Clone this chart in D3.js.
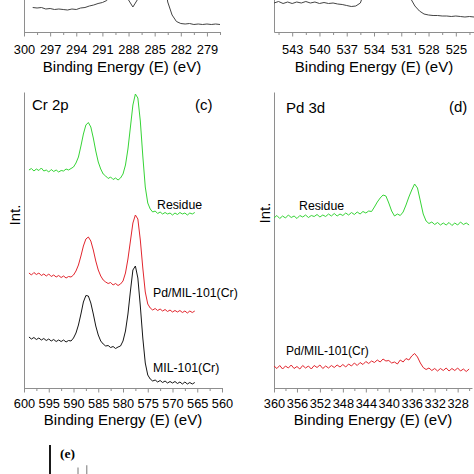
<!DOCTYPE html>
<html><head><meta charset="utf-8">
<script src="https://cdn.jsdelivr.net/npm/d3@7"></script>
<style>
body{margin:0;background:#fff}
svg{display:block;background:#fff}
text{font-family:"Liberation Sans",Arial,sans-serif;fill:#000}
</style>
</head><body>
<svg id="chart" width="474" height="474"></svg>
<script>
// ---------- DATA ----------
// (a) C 1s (partially visible)
const c1sEnergy = [299,298.5,298,297.5,297,296.5,296,295.5,295,294.5,294,293.5,293,292.5,292,291.5,291,290.5,290,289.5,289,288.5,288,287.5,287,286.5,286,285.5,285,284.5,284,283.5,283,282.5,282,281.5,281,280.5,280,279.5,279,278.5,278,277.5];
const c1sIntensity = [24.5,24,24.5,23,23.5,22.5,23,22.5,22,23,22.5,24,24.5,26,27,28.5,29.5,31.5,37,42,46,40,32,25,32,57,92,152,192,172,62,30,17,10.5,8.5,8,8.5,7.5,8,7.5,8,7.5,8,7.5];
const c1sTicks = [300,297,294,291,288,285,282,279];
const c1sMinor = [298.5,295.5,292.5,289.5,286.5,283.5,280.5,277.5];

// (b) O 1s (partially visible)
const o1sEnergy = [545,544.5,544,543.5,543,542.5,542,541.5,541,540.5,540,539.5,539,538.5,538,537.5,537,536.5,536,535.5,535,534.5,534,533.5,533,532.5,532,531.5,531,530.5,530,529.5,529,528.5,528,527.5,527,526.5,526,525.5,525,524.5,524,523.5,523];
const o1sIntensity = [29,30.5,28.5,30,28.5,30,29,30.5,29,30,28.5,29.5,28.5,29,28,27.5,26.5,25.5,26,29,42,72,110,150,180,200,205,180,92,52,34,26,21,18,17,16.5,16.5,16,16,15.5,16,15.5,15,15.5,15];
const o1sTicks = [543,540,537,534,531,528,525];
const o1sMinor = [544.5,541.5,538.5,535.5,532.5,529.5,526.5,523.5];

// (c) Cr 2p
const crEnergy = [599,598.5,598,597.5,597,596.5,596,595.5,595,594.5,594,593.5,593,592.5,592,591.5,591,590.5,590,589.5,589,588.5,588,587.5,587,586.5,586,585.5,585,584.5,584,583.5,583,582.5,582,581.5,581,580.5,580,579.5,579,578.5,578,577.5,577,576.5,576,575.5,575,574.5,574,573.5,573,572.5,572,571.5,571,570.5,570,569.5,569,568.5,568,567.5,567,566.5,566,565.5];
const crResidue = [218,219.5,217,219,217.5,220,217,218,216,218.5,216.5,218,216,217.5,217,219,218,219.5,
  221,225,231,242,254,263,265.5,261,250,237,226,219,214,212,209.5,211,208.5,210,208,210,
  214,223,239,261,283,294,290,267,232,201,185,179,176,177,174.5,176,174,175.5,174,175,
  173,175,173.5,175.5,174,175,173,175,174,175.5];
const crPdMIL = [115,113,115.5,113.5,115,112.5,114,112,114,111.5,113,111,112.5,110.5,112,110,111.5,111,
  113,117,123,132,142,149,151,147,138,127,118,112,108,106,104.5,105.5,103,104.5,102.5,104,
  107,115,129,147,165,173,169,148,120,96,84,80,78,79.5,77.5,79,77,78.5,76.5,78,
  76,77.5,76,77.5,75.5,77,75,77,75.5,77];
const crMIL = [51,49,50.5,48.5,50,48,49.5,47.5,49,47,48.5,46.5,48,46.5,48,46,47.5,47,
  50,55,63,74,86,92.5,92,85,74,62,53,47,44,42,42.5,40.5,41.5,39.5,41,42,
  47,57,74,97,118,122,110,82,50,25,13,9,7,8,6,7.5,5.5,7,5,6.5,
  5,6.5,4.5,6,4,6,4,5.5,4,5.5];
const crTicks = [600,595,590,585,580,575,570,565,560];
const crMinor = [597.5,592.5,587.5,582.5,577.5,572.5,567.5,562.5];

// (d) Pd 3d
const pdEnergy = [360,359.5,359,358.5,358,357.5,357,356.5,356,355.5,355,354.5,354,353.5,353,352.5,352,351.5,351,350.5,350,349.5,349,348.5,348,347.5,347,346.5,346,345.5,345,344.5,344,343.5,343,342.5,342,341.5,341,340.5,340,339.5,339,338.5,338,337.5,337,336.5,336,335.5,335,334.5,334,333.5,333,332.5,332,331.5,331,330.5,330,329.5,329,328.5,328,327.5,327,326.5,326];
const pdResidue = [170,172.5,169.5,172,170,173,170.5,172,169.5,172.5,
  171,173,170.5,172.5,171.5,173.5,171,173,171.5,174,
  172,174.5,172,174,172.5,175,173,175.5,173.5,176,
  174,176.5,175,177,176.5,181,186,190,193,192,
  185,177,172,174,172.5,176,183,191,198,204,
  200,187,174,167,164.5,166,163.5,165.5,163,165,
  163,165.5,162.5,165,163,166,163.5,165,163];
const pdPdMIL = [22,19.5,22.5,19,22,20,23,19.5,21.5,19,
  22.5,20,22,19,22.5,20.5,23,19.5,22,20,
  22.5,20.5,23,21,23.5,21,24,22,25,22.5,
  25.5,23.5,26.5,24.5,27,25.5,28,26,29,27,
  27.5,25,26,24,28,26,29.5,28,32,34.5,
  31,25,20.5,18.5,20,17.5,19.5,17,19.5,17.5,
  20,17,19.5,17.5,20,17,19,16.5,19];
const pdTicks = [360,356,352,348,344,340,336,332,328];
const pdMinor = [358,354,350,346,342,338,334,330,326];

// (e) partially visible panel
const eStickPos = [8.5, 9.6];
const eStickHeight = [50, 55];

const seriesNames = ["Residue", "Pd/MIL-101(Cr)", "MIL-101(Cr)"];
const axisTitle = "Binding Energy (E) (eV)";

// ---------- DRAWING ----------
const svg = d3.select("#chart");
svg.append("rect").attr("width",474).attr("height",474).attr("fill","#fff");

const AXIS = "#8e8e8e";
const GREEN = "#36d436", RED = "#e2262e", BLACK = "#161616", GREY = "#444";

function panel(o){
  const g = svg.append("g");
  const x = d3.scaleLinear().domain(o.xDomain).range(o.xRange);
  const y = d3.scaleLinear().domain(o.yDomain).range(o.yRange);
  const ax = g.append("g").attr("transform",`translate(0,${o.yRange[0]})`)
    .call(d3.axisBottom(x).tickValues(o.major).tickFormat(d3.format("d"))
      .tickSize(4.5).tickSizeOuter(0).tickPadding(o.pad));
  ax.select(".domain").attr("stroke",AXIS).attr("stroke-width",1);
  ax.selectAll(".tick line").attr("stroke",AXIS);
  ax.selectAll(".tick text").attr("font-size",12.8).attr("fill","#000")
    .attr("font-family","'Liberation Sans',Arial,sans-serif");
  const mx = g.append("g").attr("transform",`translate(0,${o.yRange[0]})`)
    .call(d3.axisBottom(x).tickValues(o.minor).tickFormat("").tickSize(3).tickSizeOuter(0));
  mx.select(".domain").remove();
  mx.selectAll(".tick line").attr("stroke",AXIS);
  const ay = g.append("g").attr("transform",`translate(${o.xRange[0]},0)`)
    .call(d3.axisLeft(y).tickValues([]).tickSizeOuter(0));
  ay.select(".domain").attr("stroke",AXIS).attr("stroke-width",1);
  g.append("text").attr("x",(o.xRange[0]+o.xRange[1])/2).attr("y",o.titleY)
    .attr("text-anchor","middle").attr("font-size",15).text(axisTitle);
  const line = d3.line().x(d=>x(d[0])).y(d=>y(d[1]));
  o.series.forEach(s=>{
    g.append("path").datum(d3.zip(o.energy, s.values))
      .attr("fill","none").attr("stroke",s.color).attr("stroke-width",1)
      .attr("stroke-linejoin","round").attr("d",line);
  });
  return {g,x,y};
}

panel({xDomain:[300,277.5], xRange:[24,220], yDomain:[0,100], yRange:[32,-68],
  major:c1sTicks, minor:c1sMinor, pad:8.5, titleY:72,
  energy:c1sEnergy, series:[{values:c1sIntensity,color:GREY}]});

panel({xDomain:[545,523], xRange:[274,474], yDomain:[0,100], yRange:[32,-68],
  major:o1sTicks, minor:o1sMinor, pad:8.5, titleY:72,
  energy:o1sEnergy, series:[{values:o1sIntensity,color:GREY}]});

const pc = panel({xDomain:[600,560], xRange:[24,222], yDomain:[0,296], yRange:[388,92],
  major:crTicks, minor:crMinor, pad:6.5, titleY:425,
  energy:crEnergy, series:[
    {values:crMIL,color:BLACK},
    {values:crPdMIL,color:RED},
    {values:crResidue,color:GREEN}]});
pc.g.append("text").attr("x",32).attr("y",110).attr("font-size",15).text("Cr 2p");
pc.g.append("text").attr("x",195).attr("y",110).attr("font-size",15).text("(c)");
pc.g.append("text").attr("transform","translate(20,215) rotate(-90)")
  .attr("text-anchor","middle").attr("font-size",15).text("Int.");
pc.g.append("text").attr("x",157).attr("y",209).attr("font-size",12.3).text(seriesNames[0]);
pc.g.append("text").attr("x",153).attr("y",297).attr("font-size",12.3).text(seriesNames[1]);
pc.g.append("text").attr("x",153).attr("y",372).attr("font-size",12.3).text(seriesNames[2]);

const pd = panel({xDomain:[360,325.5], xRange:[274,472], yDomain:[0,296], yRange:[388,92],
  major:pdTicks, minor:pdMinor, pad:6.5, titleY:425,
  energy:pdEnergy, series:[
    {values:pdPdMIL,color:RED},
    {values:pdResidue,color:GREEN}]});
pd.g.append("text").attr("x",286).attr("y",113).attr("font-size",15).text("Pd 3d");
pd.g.append("text").attr("x",449).attr("y",112).attr("font-size",15).text("(d)");
pd.g.append("text").attr("transform","translate(270,213) rotate(-90)")
  .attr("text-anchor","middle").attr("font-size",15).text("Int.");
pd.g.append("text").attr("x",299).attr("y",210).attr("font-size",12.3).text(seriesNames[0]);
pd.g.append("text").attr("x",286).attr("y",355).attr("font-size",12).text(seriesNames[1]);

const ex = d3.scaleLinear().domain([5,30]).range([50,250]);
const ey = d3.scaleLinear().domain([0,100]).range([490,445]);
const ge = svg.append("g");
ge.append("line").attr("x1",ex(5)).attr("x2",ex(5)).attr("y1",ey(100)).attr("y2",474)
  .attr("stroke","#1a1a1a").attr("stroke-width",2);
ge.selectAll("line.stick").data(d3.zip(eStickPos,eStickHeight)).join("line")
  .attr("class","stick")
  .attr("x1",d=>ex(d[0])).attr("x2",d=>ex(d[0]))
  .attr("y1",d=>ey(d[1])).attr("y2",474)
  .attr("stroke","#777").attr("stroke-width",1);
ge.append("text").attr("x",60).attr("y",458).attr("font-size",13.5)
  .attr("font-weight","bold").style("font-family","'Liberation Serif','DejaVu Serif',serif").text("(e)");
</script>
</body></html>
